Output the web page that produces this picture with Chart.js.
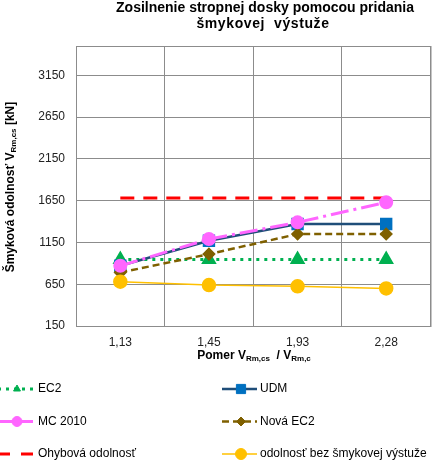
<!DOCTYPE html>
<html>
<head>
<meta charset="utf-8">
<script src="https://cdn.jsdelivr.net/npm/chart.js@4/dist/chart.umd.min.js"></script>
<style>
  html, body { margin: 0; padding: 0; background: #fff; }
  #wrap { width: 440px; height: 461px; position: relative; }
</style>
</head>
<body>
<div id="wrap"><canvas id="graphCanvas"></canvas></div>
<script>
// údaje z grafu
const categories = ["1,13", "1,45", "1,93", "2,28"];
const yTicks = [150, 650, 1150, 1650, 2150, 2650, 3150];
const ec2 = [947, 947, 947, 947];
const udm = [870, 1170, 1370, 1370];
const mc2010 = [870, 1190, 1390, 1630];
const novaEc2 = [790, 1010, 1250, 1250];
const ohybova = [1680, 1680, 1680, 1680];
const bezVystuze = [680, 640, 625, 600];

const FONT = "Arial, 'Liberation Sans', sans-serif";

// nakreslí text s dolným indexom: parts = [[text, jeIndex], ...]
const drawSubText = (ctx, parts, cx, cy, size) => {
  const subSize = Math.round(size * 0.7);
  let total = 0;
  parts.forEach(([t, sub]) => {
    ctx.font = "bold " + (sub ? subSize : size) + "px " + FONT;
    total += ctx.measureText(t).width;
  });
  let x = cx - total / 2;
  ctx.textAlign = "left";
  ctx.textBaseline = "middle";
  parts.forEach(([t, sub]) => {
    ctx.font = "bold " + (sub ? subSize : size) + "px " + FONT;
    ctx.fillText(t, x, sub ? cy + 3 : cy);
    x += ctx.measureText(t).width;
  });
};

const textPlugin = {
  id: "texty",
  beforeDatasetsDraw(chart) {
    const { ctx, chartArea } = chart;
    ctx.save();
    ctx.strokeStyle = "#8c8c8c";
    ctx.lineWidth = 1;
    ctx.strokeRect(chartArea.left + 0.5, chartArea.top + 0.5,
      chartArea.right - chartArea.left, chartArea.bottom - chartArea.top);
    ctx.restore();
  },
  afterDraw(chart) {
    const { ctx } = chart;
    ctx.save();
    ctx.fillStyle = "#000";
    ctx.textAlign = "center";
    ctx.textBaseline = "middle";
    ctx.font = "bold 14px " + FONT;
    ctx.fillText("Zosilnenie stropnej dosky pomocou pridania", 265, 8);
    ctx.letterSpacing = "0.6px";
    ctx.fillText("šmykovej  výstuže", 263, 24);
    ctx.letterSpacing = "0px";

    drawSubText(ctx, [["Pomer V", false], ["Rm,cs", true], ["  / V", false], ["Rm,c", true]], 254, 356, 12);

    ctx.save();
    ctx.translate(11, 187);
    ctx.rotate(-Math.PI / 2);
    drawSubText(ctx, [["Šmyková odolnosť V", false], ["Rm,cs", true], [" [kN]", false]], 0, 0, 12);
    ctx.restore();

    // legenda v dvoch stĺpcoch
    chart.data.datasets.forEach((ds, i) => {
      const col = i % 2;
      const row = Math.floor(i / 2);
      const x0 = col ? 222 : -2;
      const y = 389 + row * 32.5;
      ctx.save();
      ctx.strokeStyle = ds.borderColor;
      ctx.lineWidth = ds.borderWidth;
      ctx.setLineDash(ds.legendDash || []);
      ctx.beginPath();
      ctx.moveTo(x0, y);
      ctx.lineTo(x0 + 35, y);
      ctx.stroke();
      ctx.restore();
      if (ds.pointRadius > 0) {
        ctx.save();
        ctx.fillStyle = ds.pointBackgroundColor;
        ctx.strokeStyle = ds.pointBorderColor;
        Chart.helpers.drawPoint(ctx, {
          pointStyle: ds.pointStyle,
          radius: ds.legendRadius,
          rotation: 0,
          borderWidth: 1,
        }, x0 + 19, y);
        ctx.restore();
      }
      ctx.fillStyle = "#000";
      ctx.font = "12px " + FONT;
      ctx.textAlign = "left";
      ctx.textBaseline = "middle";
      ctx.fillText(ds.label, col ? 260 : 38, y);
    });
    ctx.restore();
  },
};

let ctx = document.getElementById("graphCanvas").getContext("2d");
let data = {
  labels: categories,
  datasets: [
    {
      label: "EC2",
      data: ec2,
      borderColor: "#00b050",
      borderWidth: 3,
      borderDash: [3, 5],
      legendDash: [3, 5],
      pointStyle: "triangle",
      pointRadius: 6,
      legendRadius: 4,
      pointBackgroundColor: "#00b050",
      pointBorderColor: "#00b050",
      order: 5,
    },
    {
      label: "UDM",
      data: udm,
      borderColor: "#1f4e79",
      borderWidth: 2.5,
      pointStyle: "rect",
      pointRadius: 7,
      legendRadius: 6.5,
      pointBackgroundColor: "#0070c0",
      pointBorderColor: "#0070c0",
      order: 4,
    },
    {
      label: "MC 2010",
      data: mc2010,
      borderColor: "#ff66ff",
      borderWidth: 3,
      borderDash: [18, 5, 3, 5],
      legendDash: [],
      pointStyle: "circle",
      pointRadius: 5.5,
      legendRadius: 5,
      pointBackgroundColor: "#ff66ff",
      pointBorderColor: "#ff66ff",
      order: 2,
    },
    {
      label: "Nová EC2",
      data: novaEc2,
      borderColor: "#7f6000",
      borderWidth: 2.5,
      borderDash: [7, 4],
      legendDash: [7, 4],
      pointStyle: "rectRot",
      pointRadius: 5,
      legendRadius: 4.5,
      pointBackgroundColor: "#7f6000",
      pointBorderColor: "#7f6000",
      order: 3,
    },
    {
      label: "Ohybová odolnosť",
      data: ohybova,
      borderColor: "#ff0000",
      borderWidth: 3,
      borderDash: [14, 9],
      legendDash: [12, 11],
      pointRadius: 0,
      pointHoverRadius: 0,
      order: 6,
    },
    {
      label: "odolnosť bez šmykovej výstuže",
      data: bezVystuze,
      borderColor: "#ffc000",
      borderWidth: 1.5,
      pointStyle: "circle",
      pointRadius: 6.5,
      legendRadius: 5.5,
      pointBackgroundColor: "#ffc000",
      pointBorderColor: "#ffc000",
      order: 1,
    },
  ],
};
let options = {
  responsive: true,
  maintainAspectRatio: false,
  animation: false,
  layout: {
    padding: { left: 32, right: 7, top: 46, bottom: 105 },
  },
  plugins: {
    legend: { display: false },
    title: { display: false },
    tooltip: { enabled: false },
  },
  scales: {
    x: {
      type: "category",
      offset: true,
      grid: { color: "#8c8c8c", offset: true, drawTicks: false },
      border: { color: "#8c8c8c" },
      ticks: {
        color: "#222",
        padding: 9,
        font: { family: FONT, size: 12 },
        maxRotation: 0,
      },
      afterFit: (scale) => { scale.height = 30; },
    },
    y: {
      min: 150,
      max: 3500,
      grid: { color: "#8c8c8c", drawTicks: false },
      border: { color: "#8c8c8c" },
      ticks: {
        color: "#222",
        padding: 11,
        font: { family: FONT, size: 12 },
        callback: (value) => String(value),
      },
      afterBuildTicks: (axis) => {
        axis.ticks = yTicks.map((v) => ({ value: v }));
      },
      afterFit: (scale) => { scale.width = 44; },
    },
  },
};
let graphChart = new Chart(ctx, {
  type: "line",
  data: data,
  options: options,
  plugins: [textPlugin],
});
</script>
</body>
</html>
